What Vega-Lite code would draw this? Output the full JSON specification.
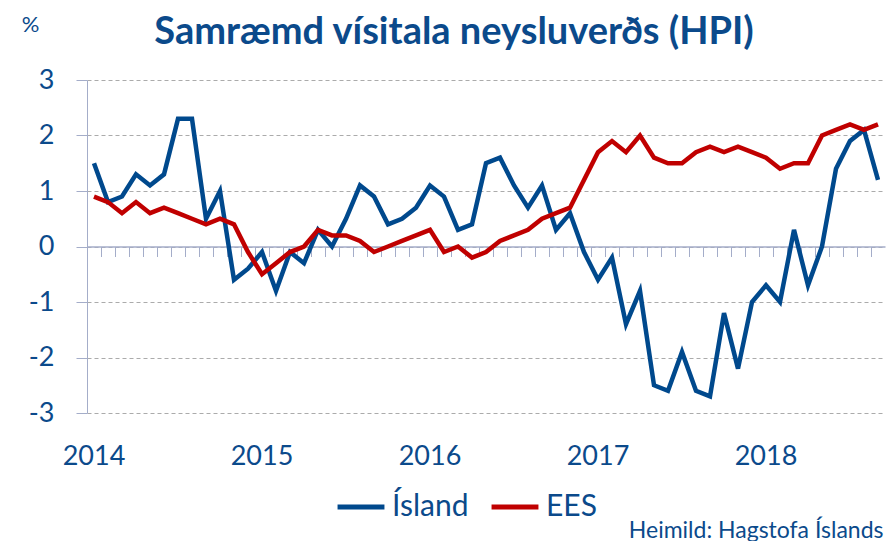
{
  "$schema": "https://vega.github.io/schema/vega-lite/v6.json",
  "width": 798,
  "height": 333,
  "autosize": {"type": "none"},
  "padding": {"left": 87, "top": 80, "right": 1, "bottom": 128},
  "background": "white",
  "config": {
    "view": {"stroke": null},
    "font": "Lato"
  },
  "title": {
    "text": "Samræmd vísitala neysluverðs (HPI)",
    "font": "Lato",
    "fontSize": 38,
    "fontWeight": "bold",
    "color": "#0B4A8B",
    "anchor": "middle",
    "dx": -32,
    "offset": -39
  },
  "data": {
    "values": [
      {"m": "2014-01", "Ísland": 1.5, "EES": 0.9},
      {"m": "2014-02", "Ísland": 0.8, "EES": 0.8},
      {"m": "2014-03", "Ísland": 0.9, "EES": 0.6},
      {"m": "2014-04", "Ísland": 1.3, "EES": 0.8},
      {"m": "2014-05", "Ísland": 1.1, "EES": 0.6},
      {"m": "2014-06", "Ísland": 1.3, "EES": 0.7},
      {"m": "2014-07", "Ísland": 2.3, "EES": 0.6},
      {"m": "2014-08", "Ísland": 2.3, "EES": 0.5},
      {"m": "2014-09", "Ísland": 0.5, "EES": 0.4},
      {"m": "2014-10", "Ísland": 1.0, "EES": 0.5},
      {"m": "2014-11", "Ísland": -0.6, "EES": 0.4},
      {"m": "2014-12", "Ísland": -0.4, "EES": -0.1},
      {"m": "2015-01", "Ísland": -0.1, "EES": -0.5},
      {"m": "2015-02", "Ísland": -0.8, "EES": -0.3},
      {"m": "2015-03", "Ísland": -0.1, "EES": -0.1},
      {"m": "2015-04", "Ísland": -0.3, "EES": 0.0},
      {"m": "2015-05", "Ísland": 0.3, "EES": 0.3},
      {"m": "2015-06", "Ísland": 0.0, "EES": 0.2},
      {"m": "2015-07", "Ísland": 0.5, "EES": 0.2},
      {"m": "2015-08", "Ísland": 1.1, "EES": 0.1},
      {"m": "2015-09", "Ísland": 0.9, "EES": -0.1},
      {"m": "2015-10", "Ísland": 0.4, "EES": 0.0},
      {"m": "2015-11", "Ísland": 0.5, "EES": 0.1},
      {"m": "2015-12", "Ísland": 0.7, "EES": 0.2},
      {"m": "2016-01", "Ísland": 1.1, "EES": 0.3},
      {"m": "2016-02", "Ísland": 0.9, "EES": -0.1},
      {"m": "2016-03", "Ísland": 0.3, "EES": 0.0},
      {"m": "2016-04", "Ísland": 0.4, "EES": -0.2},
      {"m": "2016-05", "Ísland": 1.5, "EES": -0.1},
      {"m": "2016-06", "Ísland": 1.6, "EES": 0.1},
      {"m": "2016-07", "Ísland": 1.1, "EES": 0.2},
      {"m": "2016-08", "Ísland": 0.7, "EES": 0.3},
      {"m": "2016-09", "Ísland": 1.1, "EES": 0.5},
      {"m": "2016-10", "Ísland": 0.3, "EES": 0.6},
      {"m": "2016-11", "Ísland": 0.6, "EES": 0.7},
      {"m": "2016-12", "Ísland": -0.1, "EES": 1.2},
      {"m": "2017-01", "Ísland": -0.6, "EES": 1.7},
      {"m": "2017-02", "Ísland": -0.2, "EES": 1.9},
      {"m": "2017-03", "Ísland": -1.4, "EES": 1.7},
      {"m": "2017-04", "Ísland": -0.8, "EES": 2.0},
      {"m": "2017-05", "Ísland": -2.5, "EES": 1.6},
      {"m": "2017-06", "Ísland": -2.6, "EES": 1.5},
      {"m": "2017-07", "Ísland": -1.9, "EES": 1.5},
      {"m": "2017-08", "Ísland": -2.6, "EES": 1.7},
      {"m": "2017-09", "Ísland": -2.7, "EES": 1.8},
      {"m": "2017-10", "Ísland": -1.2, "EES": 1.7},
      {"m": "2017-11", "Ísland": -2.2, "EES": 1.8},
      {"m": "2017-12", "Ísland": -1.0, "EES": 1.7},
      {"m": "2018-01", "Ísland": -0.7, "EES": 1.6},
      {"m": "2018-02", "Ísland": -1.0, "EES": 1.4},
      {"m": "2018-03", "Ísland": 0.3, "EES": 1.5},
      {"m": "2018-04", "Ísland": -0.7, "EES": 1.5},
      {"m": "2018-05", "Ísland": 0.0, "EES": 2.0},
      {"m": "2018-06", "Ísland": 1.4, "EES": 2.1},
      {"m": "2018-07", "Ísland": 1.9, "EES": 2.2},
      {"m": "2018-08", "Ísland": 2.1, "EES": 2.1},
      {"m": "2018-09", "Ísland": 1.2, "EES": 2.2}
    ]
  },
  "transform": [{"fold": ["Ísland", "EES"], "as": ["series", "value"]}],
  "encoding": {
    "y": {
      "field": "value",
      "type": "quantitative",
      "scale": {"domain": [-3, 3], "nice": false, "zero": false},
      "axis": {
        "values": [-3, -2, -1, 0, 1, 2, 3],
        "labelExpr": "'' + datum.value",
        "labelFont": "Lato",
        "labelFontSize": 27,
        "labelColor": "#0B4A8B",
        "labelPadding": 22,
        "tickSize": 11,
        "tickColor": "#A4ADC9",
        "domainColor": "#A4ADC9",
        "grid": true,
        "gridColor": "#ABABAB",
        "gridDash": [4, 3],
        "gridWidth": 1,
        "title": "%",
        "titleFont": "Lato",
        "titleFontSize": 22,
        "titleFontWeight": "normal",
        "titleColor": "#0B4A8B",
        "titleAngle": 0,
        "titleAlign": "center",
        "titleBaseline": "middle",
        "titleX": -57,
        "titleY": -56
      }
    },
    "color": {
      "field": "series",
      "type": "nominal",
      "scale": {"domain": ["Ísland", "EES"], "range": ["#00498D", "#C00000"]},
      "legend": {
        "title": null,
        "orient": "none",
        "direction": "horizontal",
        "legendX": 248,
        "legendY": 401,
        "symbolType": "stroke",
        "symbolSize": 2200,
        "symbolStrokeWidth": 5,
        "labelFont": "Lato",
        "labelFontSize": 30,
        "labelColor": "#0B4A8B",
        "labelOffset": 5,
        "columnPadding": 12
      }
    }
  },
  "layer": [
    {
      "transform": [{"filter": "datum.series == 'Ísland'"}],
      "mark": {"type": "line", "strokeWidth": 4.5, "strokeJoin": "miter"},
      "encoding": {
        "x": {
          "field": "m",
          "type": "ordinal",
          "bandPosition": 0.5,
          "scale": {"type": "band", "paddingInner": 0, "paddingOuter": 0},
          "axis": {
            "orient": "bottom",
            "bandPosition": 0.5,
            "domain": false,
            "ticks": false,
            "grid": false,
            "labelAngle": 0,
            "labelOverlap": false,
            "labelBound": false,
            "labelFlush": false,
            "labelExpr": "substring(datum.value, 5, 7) == '01' ? substring(datum.value, 0, 4) : ''",
            "labelFont": "Lato",
            "labelFontSize": 27,
            "labelColor": "#0B4A8B",
            "labelPadding": 30,
            "title": "Heimild: Hagstofa Íslands",
            "titleFont": "Lato",
            "titleFontSize": 23,
            "titleFontWeight": "normal",
            "titleColor": "#0B4A8B",
            "titleAnchor": "end",
            "titleAlign": "right",
            "titleBaseline": "alphabetic",
            "titleX": 796,
            "titleY": 124
          }
        }
      }
    },
    {
      "transform": [{"filter": "datum.series == 'EES'"}],
      "mark": {"type": "line", "strokeWidth": 4.5, "strokeJoin": "miter"},
      "encoding": {
        "x": {
          "field": "m",
          "type": "ordinal",
          "bandPosition": 0.5,
          "scale": {"type": "band", "paddingInner": 0, "paddingOuter": 0},
          "axis": {
            "orient": "bottom",
            "offset": -166.5,
            "bandPosition": 0,
            "domain": true,
            "domainColor": "#A4ADC9",
            "domainWidth": 1.5,
            "ticks": true,
            "tickColor": "#A4ADC9",
            "tickSize": 10,
            "labels": false,
            "grid": false,
            "title": null
          }
        }
      }
    }
  ],
  "resolve": {"axis": {"x": "independent"}}
}
